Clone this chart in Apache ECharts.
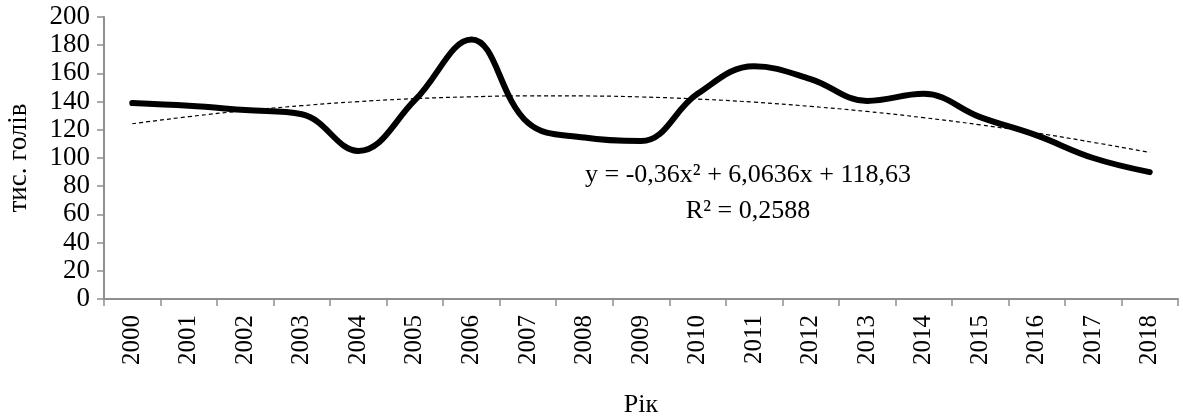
<!DOCTYPE html>
<html>
<head>
<meta charset="utf-8">
<style>
  html, body { margin: 0; padding: 0; background: #fff; }
  #chart { width: 1183px; height: 418px; }
</style>
<script src="https://cdn.jsdelivr.net/npm/echarts@6/dist/echarts.min.js"></script>
</head>
<body>
<div id="chart"></div>
<script>
// роки
const years = ['2000', '2001', '2002', '2003', '2004', '2005', '2006', '2007', '2008', '2009',
    '2010', '2011', '2012', '2013', '2014', '2015', '2016', '2017', '2018'];

// поголів'я, тис. голів
const heads = [139, 137, 134, 131, 105, 141, 184, 125, 114.5, 112,
    145.5, 165, 156, 140.5, 145.5, 129, 116, 100, 90];

// поліноміальний тренд
const trend = [124.3, 129.3, 133.6, 137.1, 140.0, 142.1, 143.4, 144.1, 144.0, 143.3,
    141.8, 139.6, 136.6, 133.0, 128.6, 123.5, 117.7, 111.1, 103.9];

const yTicks = { min: 0, max: 200, interval: 20 };

const font = 'Liberation Serif, Times New Roman, serif';
const axisGray = '#8f8f8f';

const chart = echarts.init(document.getElementById('chart'));
chart.setOption({
    animation: false,
    textStyle: { fontFamily: font },
    grid: { left: 104, right: 5, top: 17, bottom: 119, containLabel: false, outerBoundsMode: 'none' },
    xAxis: {
        type: 'category',
        data: years,
        boundaryGap: true,
        name: 'Рік',
        nameLocation: 'middle',
        nameGap: 93,
        nameTextStyle: { fontFamily: font, fontSize: 26, color: '#000' },
        axisLine: { lineStyle: { color: axisGray, width: 2 } },
        axisTick: { show: true, length: 7, lineStyle: { color: axisGray, width: 1.5 } },
        axisLabel: { rotate: 90, fontFamily: font, fontSize: 25, color: '#000', margin: 16, interval: 0 },
        splitLine: { show: false },
    },
    yAxis: {
        type: 'value',
        min: yTicks.min,
        max: yTicks.max,
        interval: yTicks.interval,
        name: 'тис. голів',
        nameLocation: 'middle',
        nameGap: 72,
        nameTextStyle: { fontFamily: font, fontSize: 27, color: '#000' },
        axisLine: { show: true, lineStyle: { color: axisGray, width: 2 } },
        axisTick: { show: true, length: 7, lineStyle: { color: axisGray, width: 1.5 } },
        axisLabel: { fontFamily: font, fontSize: 27, color: '#000', margin: 14 },
        splitLine: { show: false },
    },
    series: [
        {
            name: 'trend',
            type: 'line',
            data: trend,
            smooth: true,
            showSymbol: false,
            lineStyle: { color: '#000', width: 1.2, type: [4, 3] },
            z: 1,
        },
        {
            name: 'heads',
            type: 'line',
            data: heads,
            smooth: 0.4,
            showSymbol: false,
            lineStyle: { color: '#000', width: 6, cap: 'round', join: 'round' },
            z: 2,
        },
    ],
    graphic: [
        {
            type: 'text',
            x: 748,
            y: 175,
            style: {
                text: 'y = -0,36x² + 6,0636x + 118,63',
                font: '26px ' + font,
                fill: '#000',
                align: 'center',
                verticalAlign: 'middle',
            },
        },
        {
            type: 'text',
            x: 748,
            y: 211,
            style: {
                text: 'R² = 0,2588',
                font: '26px ' + font,
                fill: '#000',
                align: 'center',
                verticalAlign: 'middle',
            },
        },
    ],
});
</script>
</body>
</html>
